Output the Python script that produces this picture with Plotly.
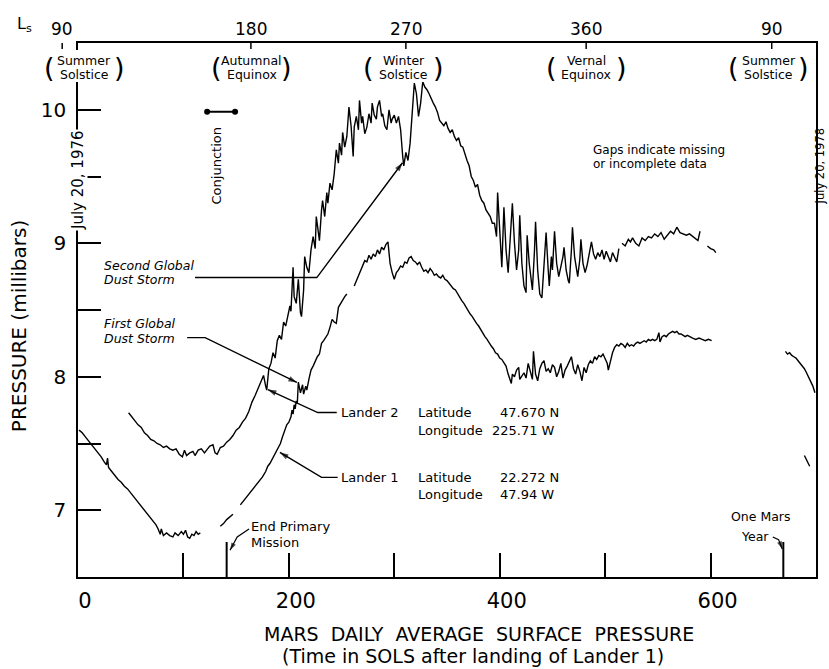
import plotly.graph_objects as go

# ---------------- DATA ----------------
# Lander 1 daily average surface pressure (sol, millibars); None = gap in record
lander1_readings = [
    (1, 7.60), (4, 7.58), (7, 7.55), (10, 7.52), (13, 7.49), (16, 7.46), (19, 7.43), (22, 7.40),
    (25, 7.36), (27, 7.34), (28, 7.39), (29, 7.32), (32, 7.29), (35, 7.26), (38, 7.23), (41, 7.21),
    (44, 7.18), (47, 7.16), (50, 7.13), (53, 7.10), (56, 7.07), (59, 7.04), (62, 7.01), (65, 6.98),
    (68, 6.95), (71, 6.92), (74, 6.89), (76, 6.86), (78, 6.82), (79, 6.86), (81, 6.81), (84, 6.83),
    (87, 6.81), (90, 6.80), (92, 6.83), (95, 6.81), (98, 6.84), (100, 6.82), (102, 6.85), (104, 6.80),
    (106, 6.79), (108, 6.82), (110, 6.81), (112, 6.84), (114, 6.82), (116, 6.83),
    None,
    (135, 6.88), (138, 6.90), (141, 6.93), (144, 6.95), (147, 6.97),
    None,
    (154, 7.04), (157, 7.07), (160, 7.10), (163, 7.13), (166, 7.16), (169, 7.19), (172, 7.22),
    (175, 7.25), (178, 7.29), (180, 7.33), (182, 7.35), (184, 7.38), (186, 7.41), (188, 7.44),
    (190, 7.46), (192, 7.50), (194, 7.55), (196, 7.60), (198, 7.64), (200, 7.66), (202, 7.70),
    (203, 7.75), (204, 7.72), (205, 7.79), (206, 7.76), (207, 7.82), (208, 7.80), (209, 7.96),
    (210, 7.92), (211, 7.88), (213, 7.94), (214, 7.87), (216, 7.93), (217, 7.90), (219, 7.98),
    (221, 8.05), (223, 8.08), (225, 8.12), (227, 8.15), (229, 8.17), (231, 8.25), (233, 8.27),
    (235, 8.30), (237, 8.32), (239, 8.37), (241, 8.43), (243, 8.41), (245, 8.40), (247, 8.52),
    (249, 8.55), (251, 8.58), (253, 8.60), (255, 8.62),
    None,
    (262, 8.68), (264, 8.72), (266, 8.76), (268, 8.80), (270, 8.83), (272, 8.87), (274, 8.86),
    (276, 8.91), (278, 8.88), (280, 8.92), (282, 8.90), (284, 8.95), (286, 8.92), (288, 8.97),
    (290, 8.95), (292, 8.99), (294, 9.01), (295, 8.93), (296, 8.85), (298, 8.78), (300, 8.73),
    (302, 8.78), (304, 8.80), (306, 8.83), (308, 8.82), (310, 8.86), (312, 8.85), (314, 8.89),
    (316, 8.90), (318, 8.87), (320, 8.86), (322, 8.84), (324, 8.86), (326, 8.82), (328, 8.79),
    (330, 8.80), (332, 8.78), (334, 8.81), (336, 8.79), (338, 8.76), (340, 8.77), (342, 8.75),
    (344, 8.74), (346, 8.76), (348, 8.73), (350, 8.72), (352, 8.70), (354, 8.68), (356, 8.66),
    (358, 8.65), (360, 8.62), (362, 8.60), (364, 8.57), (366, 8.55), (368, 8.52), (370, 8.50),
    (372, 8.47), (374, 8.45), (376, 8.42), (378, 8.40), (380, 8.38), (382, 8.35), (384, 8.33),
    (386, 8.30), (388, 8.28), (390, 8.25), (392, 8.23), (394, 8.21), (396, 8.18), (398, 8.17),
    (400, 8.14), (402, 8.13), (404, 8.10), (406, 8.08), (408, 8.02), (410, 7.98), (411, 7.95),
    (412, 8.02), (414, 8.00), (416, 8.05), (418, 8.07), (419, 7.98), (421, 8.01), (423, 8.03),
    (425, 7.99), (427, 8.10), (429, 8.04), (431, 7.98), (432, 8.19), (434, 8.02), (436, 7.97),
    (438, 8.06), (440, 8.10), (442, 8.12), (444, 8.04), (446, 8.06), (448, 8.03), (450, 8.09),
    (452, 8.07), (454, 8.00), (456, 8.04), (458, 8.10), (460, 7.99), (462, 8.05), (464, 8.08),
    (466, 8.11), (468, 8.15), (470, 8.06), (472, 8.02), (474, 8.09), (476, 8.04), (478, 7.97),
    (480, 8.07), (482, 8.03), (484, 8.09), (486, 8.12), (488, 8.10), (490, 8.15), (492, 8.13),
    (494, 8.16), (496, 8.15), (498, 8.17), (500, 8.14), (502, 8.10), (503, 8.05), (505, 8.12),
    (507, 8.18), (509, 8.22), (511, 8.24), (513, 8.23), (515, 8.25), (517, 8.24), (519, 8.22),
    (521, 8.25), (523, 8.23), (525, 8.24), (527, 8.23), (529, 8.25), (531, 8.26), (533, 8.25),
    (535, 8.26), (537, 8.27), (539, 8.26), (541, 8.28), (543, 8.27), (545, 8.28), (547, 8.27),
    (549, 8.28), (551, 8.33), (552, 8.26), (554, 8.30), (556, 8.31), (558, 8.30), (560, 8.32),
    (562, 8.33), (564, 8.34), (566, 8.33), (568, 8.34), (570, 8.32), (572, 8.32), (574, 8.31),
    (576, 8.30), (578, 8.31), (580, 8.30), (583, 8.29), (586, 8.28), (589, 8.29), (592, 8.28),
    (595, 8.27), (598, 8.28), (601, 8.27),
    None,
    (671, 8.19), (673, 8.17), (675, 8.18), (677, 8.16), (679, 8.15), (681, 8.14), (683, 8.12),
    (685, 8.10), (687, 8.08), (689, 8.06), (691, 8.03), (693, 8.00), (695, 7.97), (697, 7.93),
    (699, 7.88),
    None,
    (689, 7.41), (694, 7.33),
]

# Lander 2 daily average surface pressure (sol, millibars)
lander2_readings = [
    (48, 7.73), (51, 7.70), (54, 7.67), (57, 7.64), (60, 7.62), (63, 7.58), (66, 7.56), (69, 7.53),
    (72, 7.52), (75, 7.50), (78, 7.49), (81, 7.47), (84, 7.48), (87, 7.46), (90, 7.45), (93, 7.46),
    (96, 7.42), (99, 7.40), (101, 7.45), (103, 7.41), (106, 7.43), (109, 7.44), (111, 7.41),
    (114, 7.45), (117, 7.46), (120, 7.43), (122, 7.45), (125, 7.48), (128, 7.49), (130, 7.43),
    (132, 7.42), (135, 7.47), (138, 7.48), (141, 7.51), (144, 7.53), (147, 7.56), (150, 7.60),
    (153, 7.62), (156, 7.66), (159, 7.69), (162, 7.74), (165, 7.81), (168, 7.86), (171, 7.92),
    (174, 7.97), (176, 8.01), (178, 7.93), (179, 7.90), (181, 8.06), (183, 8.10), (185, 8.18),
    (187, 8.14), (189, 8.27), (191, 8.31), (193, 8.28), (195, 8.41), (197, 8.38), (199, 8.47),
    (201, 8.53), (202, 8.49), (204, 8.82), (205, 8.60), (207, 8.55), (209, 8.73), (211, 8.48),
    (212, 8.45), (214, 8.65), (215, 8.90), (217, 8.82), (219, 8.78), (221, 8.95), (223, 9.05),
    (225, 8.96), (226, 9.20), (228, 9.08), (229, 9.02), (231, 9.25), (232, 9.32), (234, 9.20),
    (236, 9.38), (237, 9.30), (239, 9.45), (241, 9.40), (243, 9.52), (245, 9.70), (247, 9.60),
    (248, 9.75), (250, 9.66), (251, 9.83), (253, 9.72), (255, 9.80), (257, 10.02), (259, 9.88),
    (261, 9.65), (262, 9.87), (264, 9.95), (266, 9.85), (267, 10.07), (269, 9.90), (270, 9.95),
    (272, 9.82), (274, 9.87), (276, 9.97), (278, 9.90), (279, 10.05), (281, 9.96), (283, 9.93),
    (284, 10.02), (286, 10.07), (288, 9.95), (289, 9.97), (291, 9.88), (293, 9.85), (295, 10.00),
    (297, 9.90), (298, 9.93), (300, 9.96), (302, 9.90), (304, 9.95), (306, 9.85), (308, 9.65),
    (309, 9.58), (311, 9.68), (313, 9.62), (315, 9.75), (317, 9.97), (319, 10.20), (321, 10.12),
    (323, 9.95), (325, 10.05), (327, 10.21), (329, 10.17), (331, 10.15), (333, 10.12),
    (335, 10.08), (337, 10.05), (339, 10.02), (341, 9.98), (343, 9.92), (345, 9.90), (347, 9.88),
    (349, 9.91), (351, 9.86), (353, 9.83), (355, 9.85), (357, 9.80), (359, 9.77), (361, 9.79),
    (363, 9.73), (365, 9.72), (367, 9.66), (369, 9.62), (371, 9.58), (373, 9.50), (375, 9.47),
    (377, 9.42), (379, 9.44), (381, 9.36), (383, 9.32), (385, 9.30), (387, 9.25), (389, 9.22),
    (391, 9.20), (393, 9.15), (395, 9.15), (397, 9.05), (398, 9.38), (400, 9.10), (402, 8.82),
    (404, 9.27), (406, 8.95), (408, 8.78), (410, 9.05), (412, 9.30), (414, 9.00), (416, 8.80),
    (418, 8.95), (419, 9.21), (421, 8.85), (423, 8.68), (425, 8.63), (426, 9.06), (428, 8.85),
    (430, 8.70), (431, 8.65), (433, 8.95), (434, 9.16), (436, 8.80), (438, 8.62), (440, 8.59),
    (442, 8.85), (444, 9.08), (446, 8.80), (447, 8.68), (449, 8.90), (450, 8.80), (452, 9.09),
    (454, 8.85), (456, 8.75), (458, 8.82), (460, 8.90), (461, 8.97), (463, 8.80), (465, 8.72),
    (466, 8.70), (468, 8.95), (469, 9.12), (471, 8.90), (473, 8.80), (474, 8.75), (476, 8.88),
    (477, 9.03), (479, 8.85), (481, 8.78), (483, 8.84), (485, 8.92), (487, 9.01), (489, 8.92),
    (491, 8.88), (493, 8.93), (495, 8.90), (497, 8.95), (499, 8.88), (501, 8.94), (503, 8.90),
    (505, 8.86), (507, 8.93), (509, 8.89), (511, 8.86), (513, 8.96),
    None,
    (516, 9.00), (519, 8.98), (522, 9.03), (524, 9.01), (526, 9.04), (529, 9.00), (532, 8.98),
    (535, 9.04), (538, 9.02), (541, 9.05), (544, 9.04), (547, 9.07), (550, 9.05), (553, 9.08),
    (556, 9.03), (559, 9.06), (562, 9.09), (565, 9.07), (568, 9.12), (571, 9.08), (574, 9.07),
    (577, 9.06), (580, 9.07), (583, 9.05), (586, 9.03), (588, 9.02), (590, 9.09),
    None,
    (597, 8.98), (600, 8.96), (603, 8.95), (605, 8.93),
]

# Solar longitude (Ls) markers on the top edge
ls_labels = ["90", "180", "270", "360", "90"]
ls_sols = [-15, 164, 311, 482, 658]
season_line1 = ["Summer", "Autumnal", "Winter", "Vernal", "Summer"]
season_line2 = ["Solstice", "Equinox", "Solstice", "Equinox", "Solstice"]
season_label_sols = [6, 165, 309, 482, 655]

# Conjunction period (sols) and marker pressure
conjunction_sols = [122.5, 149.0]
conjunction_mbar = [9.985, 9.985]

# Events marked with tall ticks on the bottom axis
event_sols = [141, 669]

x_tick_vals = [0, 200, 400, 600]
y_tick_vals = [7, 8, 9, 10]

X_RANGE = [0, 700]
Y_RANGE = [6.5, 10.5]

# ---------------- FIGURE ----------------
FONT = "DejaVu Sans"
L, R, T, B = 78, 11, 43, 92
W, H = 829, 669
PW, PH = W - L - R, H - T - B


def unzip(readings):
    xs, ys = [], []
    for r in readings:
        if r is None:
            xs.append(None)
            ys.append(None)
        else:
            xs.append(r[0])
            ys.append(r[1])
    return xs, ys


def sol_to_paper(s):
    return (s - X_RANGE[0]) / (X_RANGE[1] - X_RANGE[0])


def px_to_paper_y(py):
    return (H - B - py) / PH


def px_to_paper_x(px):
    return (px - L) / PW


fig = go.Figure()

for readings in (lander1_readings, lander2_readings):
    xs, ys = unzip(readings)
    fig.add_trace(go.Scatter(x=xs, y=ys, mode="lines", connectgaps=False,
                             line=dict(color="black", width=1.4), hoverinfo="skip"))

fig.add_trace(go.Scatter(x=conjunction_sols, y=conjunction_mbar, mode="lines+markers",
                         line=dict(color="black", width=2),
                         marker=dict(color="black", size=6), hoverinfo="skip"))


def leader(points, width=1.4, head=9):
    """Polyline leader ending in an arrowhead at its last point."""
    xs = [p[0] for p in points]
    ys = [p[1] for p in points]
    sizes = [0] * (len(points) - 1) + [head]
    fig.add_trace(go.Scatter(
        x=xs, y=ys, mode="lines+markers", hoverinfo="skip",
        line=dict(color="black", width=width),
        marker=dict(symbol="arrow", size=sizes, angleref="previous",
                    color="black", line=dict(width=0)),
    ))


# Dust storm and lander leaders
leader([(111, 8.743), (226.5, 8.743), (307.8, 9.603)])
leader([(103.5, 8.293), (120.6, 8.293), (207.6, 7.957)])
leader([(245.4, 7.732), (227.4, 7.732), (180.1, 7.904)])
leader([(246.3, 7.246), (231.0, 7.246), (191.5, 7.433)])
# End of primary mission / one Mars year pointers
leader([(162.2, 6.86), (151.0, 6.80), (144.2, 6.70)], width=1.2, head=8)
leader([(659.0, 6.80), (664.5, 6.78), (668.0, 6.71)], width=1.2, head=8)

annotations = []
shapes = []


def text(t, x, y, size=13, xanchor="left", yanchor="middle", xref="x", yref="y",
         angle=0, bg=None, xshift=0):
    a = dict(text=t, x=x, y=y, xref=xref, yref=yref, showarrow=False,
             xanchor=xanchor, yanchor=yanchor, textangle=angle, xshift=xshift,
             borderpad=0,
             font=dict(family=FONT, size=size, color="black"))
    if bg:
        a["bgcolor"] = bg
    annotations.append(a)


# Ls axis along the top
text("L<sub>s</sub>", px_to_paper_x(24), px_to_paper_y(24), size=16,
     xanchor="center", xref="paper", yref="paper")
for lab, s in zip(ls_labels, ls_sols):
    text(lab, sol_to_paper(s), px_to_paper_y(29), size=17, xanchor="center",
         xref="paper", yref="paper")
    shapes.append(dict(type="line", xref="paper", yref="paper",
                       x0=sol_to_paper(s), x1=sol_to_paper(s),
                       y0=1, y1=px_to_paper_y(T + 6), line=dict(color="black", width=1.5)))
for l1, l2, s in zip(season_line1, season_line2, season_label_sols):
    xp = sol_to_paper(s)
    shapes.append(dict(type="rect", xref="paper", yref="paper", layer="above",
                       x0=xp - 30 / PW, x1=xp + 30 / PW,
                       y0=px_to_paper_y(82), y1=px_to_paper_y(50),
                       fillcolor="white", line=dict(width=0)))
    text(l1, xp, px_to_paper_y(60.5), size=12.5, xanchor="center", xref="paper", yref="paper")
    text(l2, xp, px_to_paper_y(74.5), size=12.5, xanchor="center", xref="paper", yref="paper")
    text("(", xp, px_to_paper_y(67.5), size=27, xanchor="center", xref="paper",
         yref="paper", xshift=-35)
    text(")", xp, px_to_paper_y(67.5), size=27, xanchor="center", xref="paper",
         yref="paper", xshift=35)

# Date stamps on the side edges
text("July 20, 1976", 0, px_to_paper_y(180), size=15, xanchor="center",
     xref="paper", yref="paper", angle=-90, bg="white")
text("July 20, 1978", px_to_paper_x(822.5), px_to_paper_y(166), size=11.5,
     xanchor="center", xref="paper", yref="paper", angle=-90)

# Conjunction label
text("Conjunction", 131.5, 9.58, size=13, xanchor="center", angle=-90)

# Gaps note
text("Gaps indicate missing", 487.5, 9.70, size=12)
text("or incomplete data", 487.5, 9.595, size=12)

# Dust storm labels
text("<i>Second Global</i>", 24, 8.835, size=12.5)
text("<i>Dust Storm</i>", 24, 8.728, size=12.5)
text("<i>First Global</i>", 24, 8.40, size=12.5)
text("<i>Dust Storm</i>", 24, 8.29, size=12.5)

# Lander labels
text("Lander 2", 248.5, 7.732, size=13)
text("Latitude", 322, 7.732, size=13)
text("47.670 N", 399.5, 7.732, size=13)
text("Longitude", 322, 7.597, size=13)
text("225.71 W", 392, 7.597, size=13)
text("Lander 1", 248.5, 7.246, size=13)
text("Latitude", 322, 7.246, size=13)
text("22.272 N", 399.5, 7.246, size=13)
text("Longitude", 322, 7.118, size=13)
text("47.94 W", 399.5, 7.118, size=13)

# Event ticks on the bottom axis
for s in event_sols:
    shapes.append(dict(type="line", xref="x", yref="y", ysizemode="pixel",
                       yanchor=Y_RANGE[0], x0=s, x1=s, y0=0, y1=35,
                       line=dict(color="black", width=2)))
text("End Primary", 163, 6.877, size=13)
text("Mission", 163, 6.762, size=13)
text("One Mars", 647.5, 6.955, size=12.5, xanchor="center")
text("Year", 641.7, 6.80, size=12.5, xanchor="center")

# X-axis caption
text("MARS  DAILY  AVERAGE  SURFACE  PRESSURE", px_to_paper_x(480), px_to_paper_y(634),
     size=19, xanchor="center", xref="paper", yref="paper")
text("(Time in SOLS after landing of Lander 1)", px_to_paper_x(474), px_to_paper_y(655.5),
     size=19, xanchor="center", xref="paper", yref="paper")
# Y-axis caption
text("PRESSURE (millibars)", px_to_paper_x(19), px_to_paper_y(326), size=20,
     xanchor="center", xref="paper", yref="paper", angle=-90)

fig.update_layout(
    width=W, height=H,
    margin=dict(l=L, r=R, t=T, b=B, pad=0),
    paper_bgcolor="white", plot_bgcolor="white",
    showlegend=False,
    font=dict(family=FONT, color="black"),
    annotations=annotations,
    shapes=shapes,
)
fig.update_xaxes(
    range=X_RANGE, showgrid=False, zeroline=False,
    showline=True, mirror=True, linecolor="black", linewidth=1.5,
    tickmode="array", tickvals=x_tick_vals, ticktext=[str(v) for v in x_tick_vals],
    ticks="inside", ticklen=24, tickwidth=1.5, tickcolor="black",
    ticklabelshift=7, ticklabelstandoff=4,
    tickfont=dict(family=FONT, size=21, color="black"),
    minor=dict(dtick=100, tick0=0, ticks="inside", ticklen=24, tickwidth=1.5,
               tickcolor="black", showgrid=False),
)
fig.update_yaxes(
    range=Y_RANGE, showgrid=False, zeroline=False,
    showline=True, mirror=True, linecolor="black", linewidth=1.5,
    tickmode="array", tickvals=y_tick_vals, ticktext=[str(v) for v in y_tick_vals],
    ticks="inside", ticklen=23, tickwidth=1.5, tickcolor="black",
    ticklabelstandoff=6,
    tickfont=dict(family=FONT, size=20, color="black"),
    minor=dict(dtick=0.5, tick0=6.5, ticks="inside", ticklen=23, tickwidth=1.5,
               tickcolor="black", showgrid=False),
)

fig.write_html("out.html")
